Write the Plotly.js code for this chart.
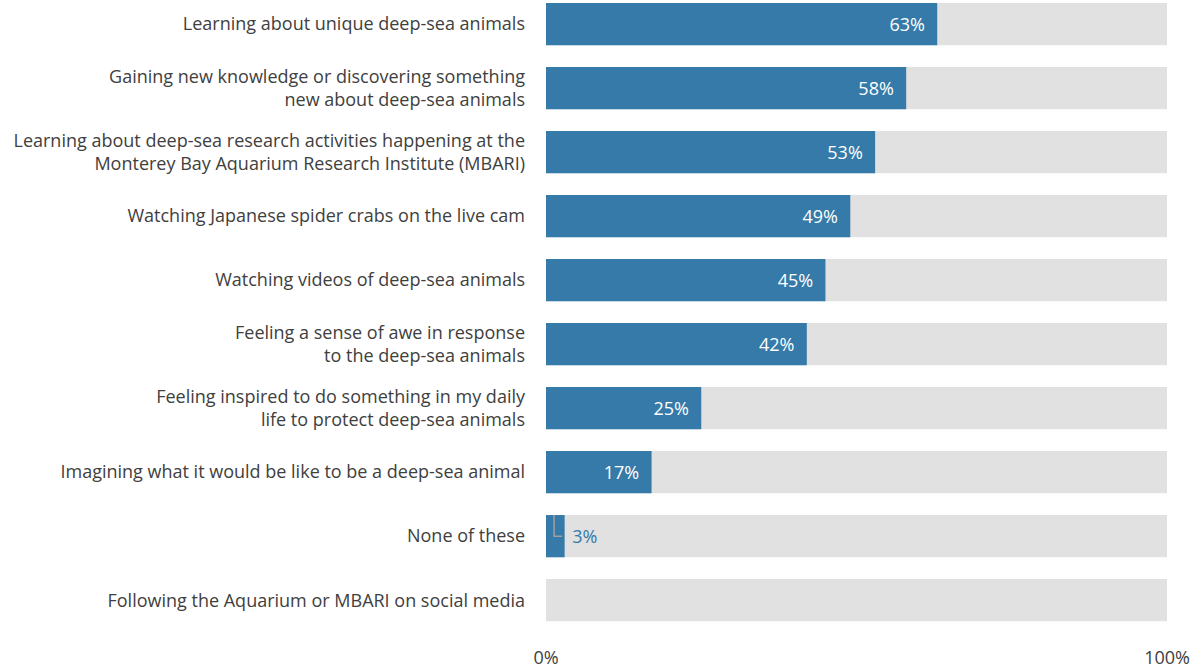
<!DOCTYPE html>
<html><head><meta charset="utf-8">
<script src="https://cdn.plot.ly/plotly-3.0.1.min.js"></script>
<style>html,body{margin:0;padding:0;background:#fff}#chart{width:1193px;height:670px}</style>
</head><body><div id="chart"></div>
<script>
const categories = [
  "Learning about unique deep-sea animals",
  "Gaining new knowledge or discovering something<br>new about deep-sea animals",
  "Learning about deep-sea research activities happening at the<br>Monterey Bay Aquarium Research Institute (MBARI)",
  "Watching Japanese spider crabs on the live cam",
  "Watching videos of deep-sea animals",
  "Feeling a sense of awe in response<br>to the deep-sea animals",
  "Feeling inspired to do something in my daily<br>life to protect deep-sea animals",
  "Imagining what it would be like to be a deep-sea animal",
  "None of these",
  "Following the Aquarium or MBARI on social media"
];
const values = [63, 58, 53, 49, 45, 42, 25, 17, 3, 0];
const fullScale = [100, 100, 100, 100, 100, 100, 100, 100, 100, 100];
const tickVals = [0, 100];
const tickText = ["0%", "100%"];

const positions = values.map(v => v === 0 ? "none" : (v < 8 ? "outside" : "inside"));
const labels = values.map((v, i) => v === 0 ? "" :
  (positions[i] === "inside" ? v + "%\u00a0\u00a0" : "\u00a0" + v + "%"));

const bg = {
  type: "bar", orientation: "h", y: categories, x: fullScale,
  marker: {color: "#e1e1e1"}, width: 0.66, hoverinfo: "skip", showlegend: false
};
const fg = {
  type: "bar", orientation: "h", y: categories, x: values,
  marker: {color: "#357aa8"}, width: 0.66,
  text: labels, textposition: positions, insidetextanchor: "end",
  insidetextfont: {color: "#ffffff", size: 18, family: "Open Sans, sans-serif"},
  outsidetextfont: {color: "#357aa8", size: 18, family: "Open Sans, sans-serif"},
  cliponaxis: false, showlegend: false
};
const layout = {
  width: 1193, height: 670,
  margin: {l: 546, r: 26, t: 0, b: 25},
  barmode: "overlay",
  plot_bgcolor: "#fff", paper_bgcolor: "#fff",
  font: {family: "Open Sans, sans-serif", color: "#404040", size: 18},
  xaxis: {range: [0, 100], tickvals: tickVals, ticktext: tickText, showgrid: false,
          zeroline: false, showline: false, ticks: "", fixedrange: true,
          tickfont: {size: 18, color: "#404040"}},
  yaxis: {type: "category", range: [9.70, -0.375], showgrid: false, zeroline: false,
          showline: false, ticks: "", ticklabelstandoff: 20,
          tickfont: {size: 18, color: "#404040"}},
  shapes: [{
    type: "path", xref: "x", yref: "y",
    path: "M 1.3 7.67 L 1.3 8.0 L 2.6 8.0",
    line: {color: "#a0a0a0", width: 1.5}
  }]
};
Plotly.newPlot("chart", [bg, fg], layout, {displayModeBar: false, staticPlot: true});
</script></body></html>
